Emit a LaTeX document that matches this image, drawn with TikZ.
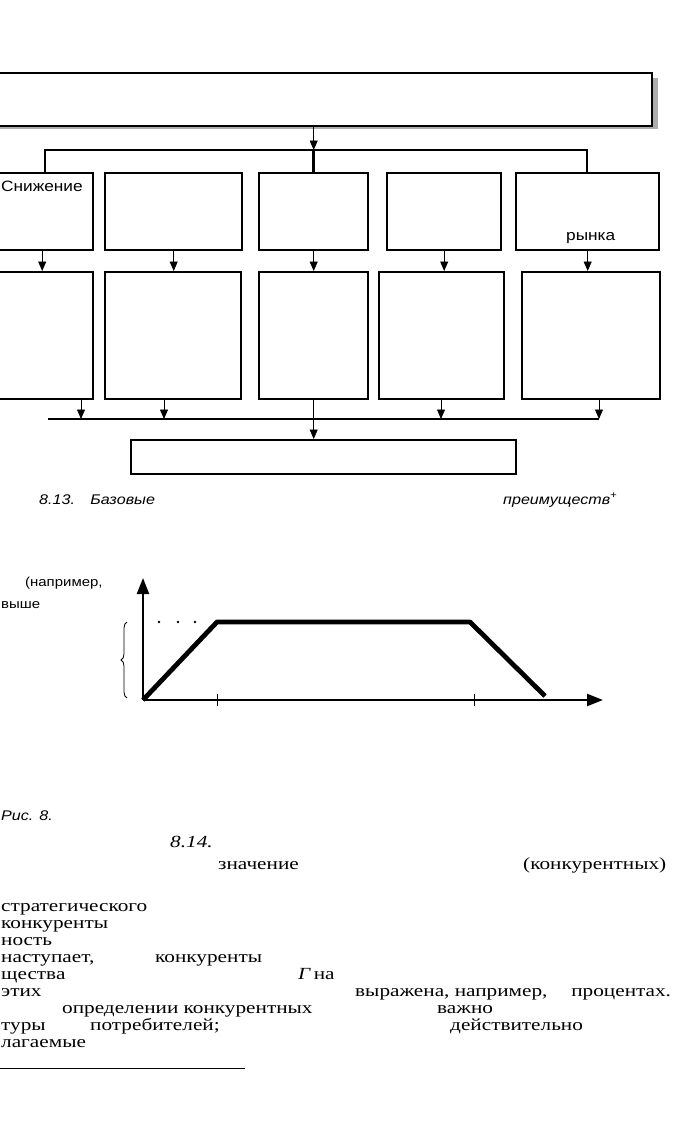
\documentclass[tikz,border=0pt]{standalone}
\usepackage{fontspec}
\setmainfont{Liberation Serif}
\newfontfamily\figfont[FakeStretch=1.15]{Liberation Sans}
\newfontfamily\pagefont[FakeStretch=1.25]{Liberation Serif}
\usetikzlibrary{arrows.meta,decorations.pathreplacing}
\tikzset{
	blk/.style={draw, fill=white, line width=2.4pt, inner sep=0pt, anchor=north west},
	arr/.style={line width=0.9pt, -{Triangle[length=9.5pt,width=8pt]}},
	bus/.style={line width=1.6pt},
	axis/.style={line width=2.2pt, -{Triangle[length=16pt,width=12pt]}},
	lbl/.style={anchor=base west, inner sep=0pt, font=\figfont\fontsize{15}{15}\selectfont},
	figcap/.style={anchor=base west, inner sep=0pt, font=\figfont\itshape\fontsize{14}{14}\selectfont},
	txt/.style={anchor=base west, inner sep=0pt, font=\pagefont\fontsize{17}{17}\selectfont}
}

\begin{document}
\begin{tikzpicture}[x=1pt, y=-1pt]
	\useasboundingbox (0,0) rectangle (700,1122);
	\clip (0,0) rectangle (700,1122);
	\fill[gray!65] (-10,78) rectangle (658,129);
	\node[blk, line width=1.8pt, minimum width=661pt, minimum height=53pt] (top) at (-10,72) {};
	\node[blk, minimum width=102pt, minimum height=77pt] (a1) at (-10,172) {};
	\node[blk, minimum width=137pt, minimum height=77pt] (b1) at (104,172) {};
	\node[blk, minimum width=109pt, minimum height=77pt] (c1) at (258,172) {};
	\node[blk, minimum width=114pt, minimum height=77pt] (d1) at (386,172) {};
	\node[blk, minimum width=143pt, minimum height=77pt] (e1) at (515,172) {};
	\node[blk, minimum width=102pt, minimum height=127pt] (a2) at (-10,271) {};
	\node[blk, minimum width=136pt, minimum height=127pt] (b2) at (104,271) {};
	\node[blk, minimum width=109pt, minimum height=127pt] (c2) at (258,271) {};
	\node[blk, minimum width=125pt, minimum height=127pt] (d2) at (378,271) {};
	\node[blk, minimum width=138pt, minimum height=127pt] (e2) at (521,271) {};
	\node[blk, minimum width=385pt, minimum height=34pt] (bot) at (130,439) {};
	\node[lbl] (t-a1) at (1,191) {Снижение};
	\node[lbl] (t-e1) at (566,240) {рынка};
	\coordinate (k-a) at (45,150);
	\coordinate (k-e) at (587,150);
	\foreach \n/\x in {a/81,b/164,d/441,e/599}
		\coordinate (j-\n) at (\x,419);
	\draw[bus] (a1.north -| k-a) -- (k-a) -- (k-e) -- (e1.north -| k-e);
	\draw[arr] (top.south -| c1.north) -- (c1.north |- k-a);
	\draw[line width=2.6pt] (c1.north |- k-a) -- (c1.north);
	\foreach \n in {a,b,c,d,e}
		\draw[arr] (\n1.south) -- (\n1.south |- \n2.north);
	\draw[bus] (48,419) -- (j-e);
	\foreach \n in {a,b,d,e}
		\draw[arr] (\n2.south -| j-\n) -- (j-\n);
	\draw[arr, line width=0.7pt] (c2.south) -- (c2.south |- bot.north);
	\node[figcap] (cap13) at (39,504) {8.13.\hspace{1.1em}Базовые};
	\node[figcap] (cap13b) at (503,504) {преимуществ\textsuperscript{+}};
	\coordinate (O) at (143,700);
	\coordinate (p1) at (217,622);
	\coordinate (p2) at (470,622);
	\coordinate (p3) at (545,696);
	\draw[axis] (O) -- (143,578);
	\draw[axis] (O) -- (603,700);
	\draw[line width=4.8pt, line join=round] (O) -- (p1) -- (p2) -- (p3);
	\draw[line width=0.8pt] (p1 |- O) ++(0,-6) -- ++(0,12);
	\draw[line width=0.8pt] (474,694) -- ++(0,12);
	\foreach \x in {159,178,195}
		\fill (\x,622) circle (1.3pt);
	\draw[line width=0.8pt, decorate, decoration={brace, amplitude=6pt}] (127,698) -- (127,622);
	\node[lbl, font=\figfont\fontsize{13}{13}\selectfont] (t-np) at (25,586) {(например,};
	\node[lbl, font=\figfont\fontsize{13}{13}\selectfont] (t-vy) at (1,608) {выше};
	\node[figcap] (cap8) at (1,820) {Рис. 8.};
	\node[txt, font=\pagefont\itshape\fontsize{17}{17}\selectfont] (n814) at (170,847) {8.14.};
	\node[txt] at (218,869) {значение};
	\node[txt] at (523,869) {(конкурентных)};
	\node[txt] at (1,911) {стратегического};
	\node[txt] at (1,928) {конкуренты};
	\node[txt] at (1,945) {ность};
	\node[txt] at (1,962) {наступает,};
	\node[txt] at (155,962) {конкуренты};
	\node[txt] at (1,979) {щества};
	\node[txt] at (298,979) {\textit{Г}\,на};
	\node[txt] at (1,996) {этих};
	\node[txt] at (355,996) {выражена, например,\hspace{1.4em}процентах.};
	\node[txt] at (62,1013) {определении конкурентных};
	\node[txt] at (437,1013) {важно};
	\node[txt] at (1,1030) {туры};
	\node[txt] at (90,1030) {потребителей;};
	\node[txt] at (450,1030) {действительно};
	\node[txt] at (1,1047) {лагаемые};
	\draw[line width=1pt] (0,1068) -- (245,1068);
\end{tikzpicture}
\end{document}
